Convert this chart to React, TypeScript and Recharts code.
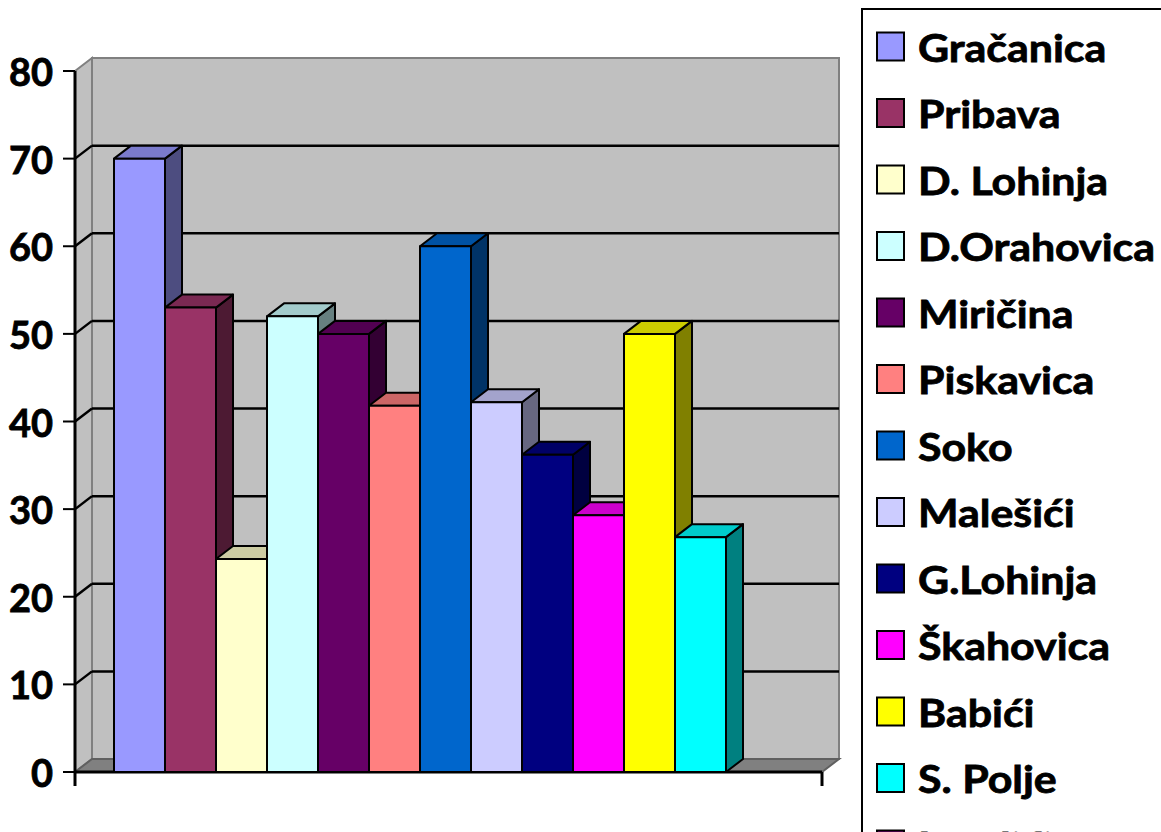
import React from "react";
import { BarChart, Bar, XAxis, YAxis, CartesianGrid } from "recharts";

// one category, thirteen villages as series
const categories = ["Naselja"];
const seriesNames = [
  "Gračanica",
  "Pribava",
  "D. Lohinja",
  "D.Orahovica",
  "Miričina",
  "Piskavica",
  "Soko",
  "Malešići",
  "G.Lohinja",
  "Škahovica",
  "Babići",
  "S. Polje",
  "Lendići",
];
const seriesValues: (number | null)[] = [70, 53, 24.3, 52, 50, 41.8, 60, 42.2, 36.2, 29.3, 50, 26.8, null];
const seriesColors = [
  "#9999FF",
  "#993366",
  "#FFFFCC",
  "#CCFFFF",
  "#660066",
  "#FF8080",
  "#0066CC",
  "#CCCCFF",
  "#000080",
  "#FF00FF",
  "#FFFF00",
  "#00FFFF",
  "#800080",
];
const yTicks = [0, 10, 20, 30, 40, 50, 60, 70, 80];

const data = categories.map((c) => {
  const row: Record<string, any> = { name: c };
  seriesNames.forEach((_, i) => {
    row["s" + i] = seriesValues[i];
  });
  return row;
});

const CHART_W = 860;
const CHART_H = 832;
const MARGIN = { top: 71, right: 38, bottom: 60, left: 0 };
const PLOT_TOP = MARGIN.top;
const PLOT_BOTTOM = CHART_H - MARGIN.bottom;
const DX = 17;
const DY = -13;

function shade(hex: string, f: number) {
  const n = parseInt(hex.slice(1), 16);
  const r = Math.round(((n >> 16) & 255) * f);
  const g = Math.round(((n >> 8) & 255) * f);
  const b = Math.round((n & 255) * f);
  return `rgb(${r},${g},${b})`;
}

const Box3D = (props: any) => {
  const { x, y, width, height, fill } = props;
  if (!height || height <= 0) return null;
  const r = x + width;
  const b = y + height;
  return (
    <g strokeLinejoin="round">
      <polygon
        points={`${r},${y} ${r + DX},${y + DY} ${r + DX},${b + DY} ${r},${b}`}
        fill={shade(fill, 0.5)}
        stroke="#000"
        strokeWidth={2}
      />
      <polygon
        points={`${x},${y} ${x + DX},${y + DY} ${r + DX},${y + DY} ${r},${y}`}
        fill={shade(fill, 0.8)}
        stroke="#000"
        strokeWidth={2}
      />
      <rect x={x} y={y} width={width} height={height} fill={fill} stroke="#000" strokeWidth={2} />
    </g>
  );
};

// walls, floor and front edge go with the first grid line; the rest sit on the back wall
const gridLine = (p: any) => {
  const { x1, x2, y1, index } = p;
  const isEdge = Math.abs(y1 - PLOT_TOP) < 1 || Math.abs(y1 - PLOT_BOTTOM) < 1;
  return (
    <g key={`grid-${index}`}>
      {index === 0 && (
        <g>
          <polygon
            points={`${x1 + DX},${PLOT_TOP + DY} ${x2 + DX},${PLOT_TOP + DY} ${x2 + DX},${PLOT_BOTTOM + DY} ${x1 + DX},${PLOT_BOTTOM + DY}`}
            fill="#C0C0C0"
            stroke="#808080"
            strokeWidth={2}
          />
          <polygon
            points={`${x1},${PLOT_TOP} ${x1 + DX},${PLOT_TOP + DY} ${x1 + DX},${PLOT_BOTTOM + DY} ${x1},${PLOT_BOTTOM}`}
            fill="#C0C0C0"
            stroke="#808080"
            strokeWidth={2}
          />
          <polygon
            points={`${x1},${PLOT_BOTTOM} ${x1 + DX},${PLOT_BOTTOM + DY} ${x2 + DX},${PLOT_BOTTOM + DY} ${x2},${PLOT_BOTTOM}`}
            fill="#808080"
            stroke="#606060"
            strokeWidth={2}
          />
          <g stroke="#000" strokeWidth={3}>
            <line x1={x1} y1={PLOT_BOTTOM} x2={x2} y2={PLOT_BOTTOM} />
            <line x1={x1} y1={PLOT_BOTTOM} x2={x1} y2={PLOT_BOTTOM + 14} />
            <line x1={x2} y1={PLOT_BOTTOM} x2={x2} y2={PLOT_BOTTOM + 14} />
          </g>
        </g>
      )}
      {!isEdge && (
        <g stroke="#000" strokeWidth={2.5}>
          <line x1={x1} y1={y1} x2={x1 + DX} y2={y1 + DY} />
          <line x1={x1 + DX} y1={y1 + DY} x2={x2 + DX} y2={y1 + DY} />
        </g>
      )}
    </g>
  );
};

const YTick = (props: any) => {
  const { x, y, payload } = props;
  return (
    <text
      x={x - 8}
      y={y + 15}
      textAnchor="end"
      fontFamily="Lato"
      fontWeight="bold"
      fontSize={38}
      fill="#000"
      stroke="#000"
      strokeWidth={0.8}
    >
      {payload.value}
    </text>
  );
};

const LEGEND_X = 862;
const LEGEND_Y = 9;
const LEGEND_FIRST_BASE = 61.5;
const LEGEND_STEP = 66.5;

function Legend3D() {
  return (
    <svg width={1161} height={832} style={{ position: "absolute", left: 0, top: 0, pointerEvents: "none" }}>
      <rect x={LEGEND_X} y={LEGEND_Y} width={400} height={1000} fill="#fff" stroke="#000" strokeWidth={2} />
      {seriesNames.map((name, i) => {
        const base = LEGEND_FIRST_BASE + LEGEND_STEP * i;
        return (
          <g key={name}>
            <rect x={877} y={base - 29} width={27} height={28} fill={seriesColors[i]} stroke="#000" strokeWidth={2} />
            <text
              transform={`translate(918 ${base}) scale(1.1 1)`}
              fontFamily="Lato"
              fontWeight="bold"
              fontSize={39}
              fill="#000"
              stroke="#000"
              strokeWidth={0.8}
            >
              {name}
            </text>
          </g>
        );
      })}
    </svg>
  );
}

export default function App() {
  return (
    <div style={{ position: "relative", width: 1161, height: 832, overflow: "hidden", background: "#fff" }}>
      <style>{"body{margin:0}"}</style>
      <BarChart width={CHART_W} height={CHART_H} data={data} margin={MARGIN} barCategoryGap={39} barGap={0}>
        <CartesianGrid vertical={false} horizontal={gridLine} />
        <XAxis dataKey="name" hide />
        <YAxis
          domain={[0, 80]}
          ticks={yTicks}
          width={75}
          tickSize={12}
          tick={<YTick />}
          axisLine={{ stroke: "#000", strokeWidth: 3 }}
          tickLine={{ stroke: "#000", strokeWidth: 2 }}
        />
        {seriesNames.map((name, i) => (
          <Bar
            key={name}
            dataKey={"s" + i}
            name={name}
            fill={seriesColors[i]}
            shape={Box3D}
            isAnimationActive={false}
          />
        ))}
      </BarChart>
      <Legend3D />
    </div>
  );
}
